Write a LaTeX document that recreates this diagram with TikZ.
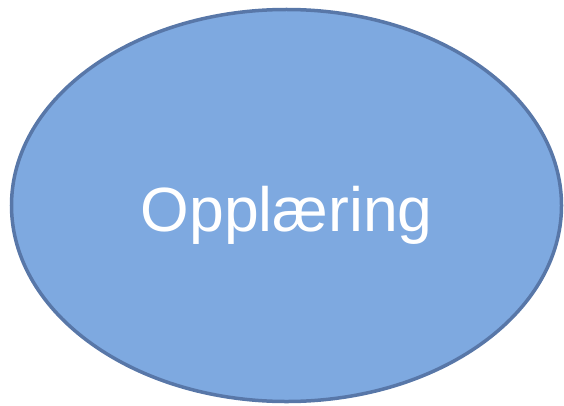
\documentclass[tikz,border=0pt]{standalone}
\usepackage{fontspec}
\setmainfont{Liberation Sans}
\usetikzlibrary{shapes.geometric,positioning}
\definecolor{ovalfill}{RGB}{126,169,224}
\definecolor{ovaldraw}{RGB}{88,119,168}

\begin{document}
\begin{tikzpicture}[x=1bp,y=1bp,
  oval/.style={ellipse,draw=ovaldraw,fill=ovalfill,line width=3.5bp,inner sep=0pt,
    minimum width=550bp,minimum height=392bp},
  ovaltext/.style={text=white,font=\fontsize{62.5bp}{75bp}\selectfont,inner sep=0pt}]
\useasboundingbox (0,0) rectangle (564,405);
\node[oval] (opp) at (286.5,199.5) {};
\node[ovaltext,anchor=base] (oppl) at (286.7,173.3) {Opplæring};
\end{tikzpicture}
\end{document}
